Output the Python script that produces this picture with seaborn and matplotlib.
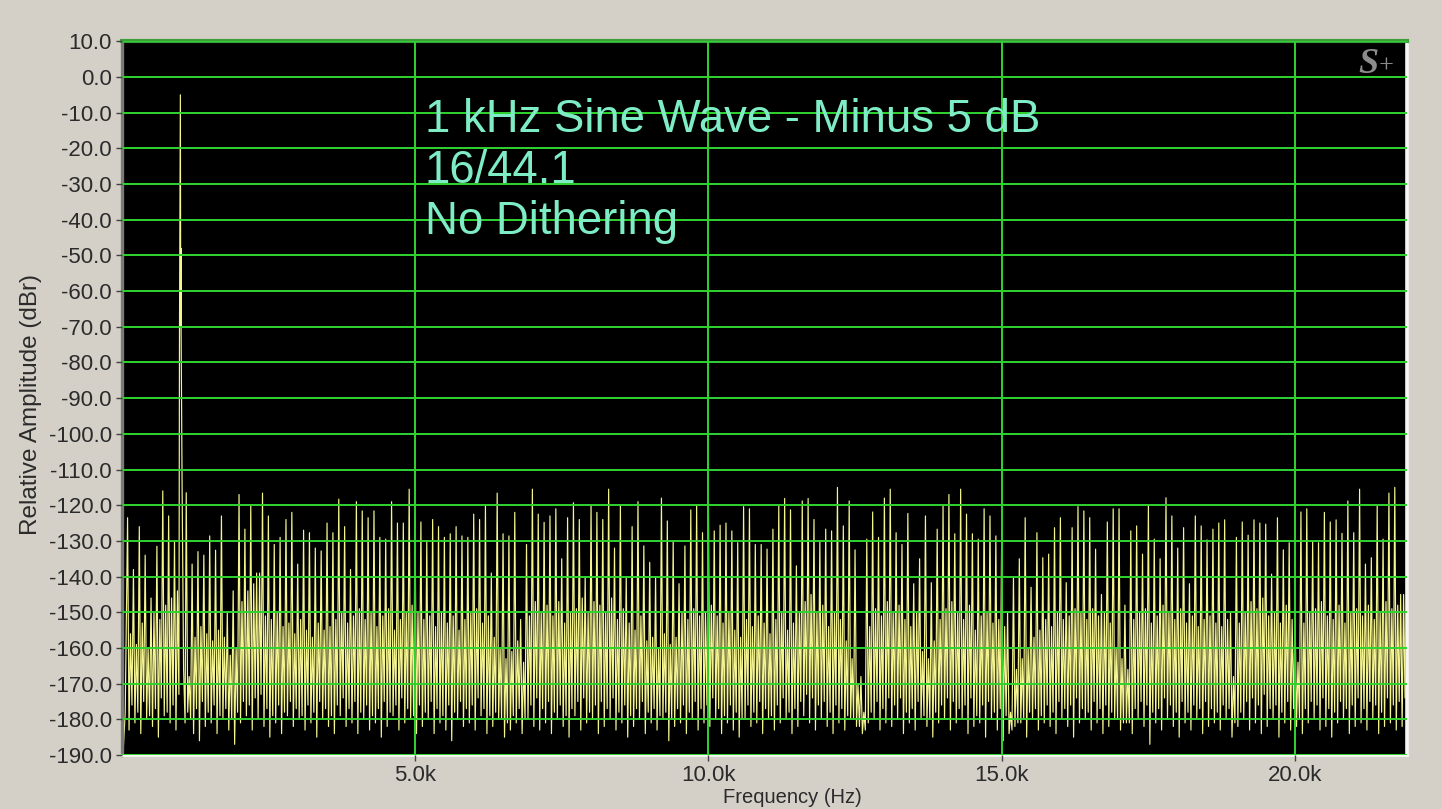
import numpy as np
import pandas as pd
import seaborn as sns
import matplotlib.pyplot as plt

# ---- spectrum data (dBr) -------------------------------------------------
# Spurs of the undithered 16-bit tone fall on a 100 Hz grid (bin n -> n*100 Hz).
BIN_HZ = 100
bins = [n for n in range(1, 219) if n != 10]   # bin 10 is the 1 kHz tone itself

# tip of the tall spur in each bin
peak_db = [
    -123.5, -138, -126, -134, -146, -131.5, -116, -123, -130,
    -116.5, -136.5, -133, -134, -128.6, -132.6, -123, -150, -144, -117,
    -126.7, -120, -139, -116.6, -123, -131, -129, -124, -122, -136.5,
    -127, -127.7, -132, -132.8, -125, -127.7, -118.3, -126, -138, -119,
    -121.6, -123.5, -121.6, -129, -129.5, -119, -125, -125, -115.5, -124,
    -124.7, -130, -124, -126, -129, -128, -126, -128.6, -129, -122.5,
    -124, -120, -139, -116.6, -128, -128.6, -122, -152, -131, -115.5,
    -122.5, -124.8, -123, -121, -135, -123.5, -119.3, -124, -140, -120,
    -122, -124, -115.5, -132, -120, -140, -126, -119, -131.4, -136,
    -140, -118, -124.4, -130, -142, -131.4, -121.3, -120, -127.7, -118.8,
    -127.2, -125.6, -125, -127.2, -130.5, -120.4, -121, -131, -131, -132.3,
    -126.7, -120.2, -118.1, -121.3, -137, -118.8, -118.1, -124, -130, -126.7,
    -127.2, -115, -125.8, -118.8, -132.5, -168, -129.5, -121.9, -129, -118,
    -115.5, -127.7, -131, -122.3, -142, -135, -123, -141.7, -126.7, -120.2,
    -117, -128, -115.5, -122.5, -128, -129.5, -121, -123, -128.6, -127.2,
    -150, -140, -135, -123.5, -143, -127.7, -134.7, -133.7, -126.3, -123.5,
    -141.7, -126.3, -120.4, -121.6, -123.5, -132.3, -145, -124.7, -121, -121,
    -148, -127.2, -125.8, -133.7, -120, -129.5, -135, -117.9, -123, -132,
    -126.3, -142, -123, -125.8, -129.7, -126.7, -125, -124.1, -150, -129,
    -124.7, -128.4, -124.1, -125, -125.3, -139.3, -123.5, -132.5, -130.5, -150,
    -121.9, -121, -130, -130.5, -122, -124.7, -124.1, -127.9, -118.8, -127.7,
    -115.5, -136.5, -134.7, -120.2, -129.5, -116.6, -115, -145,
]

# upper edge of the dense noise band in each bin
band_db = [
    -156, -159, -153, -160, -150, -152, -148, -146, -144,
    -168, -157, -154, -156, -158, -155, -157, -162, -160, -147,
    -144, -142, -139, -151, -152, -150, -154, -153, -156, -152,
    -155, -157, -153, -155, -154, -152, -150, -153, -151, -149,
    -152, -150, -154, -151, -149, -155, -152, -150, -148, -150,
    -152, -151, -154, -150, -153, -151, -155, -152, -150, -149,
    -153, -151, -157, -160, -163, -161, -158, -164, -151, -147,
    -150, -148, -151, -147, -153, -150, -149, -146, -150, -147,
    -148, -150, -146, -152, -149, -153, -155, -151, -158, -157,
    -160, -156, -159, -157, -150, -152, -149, -151, -150, -148,
    -151, -153, -150, -155, -157, -152, -154, -151, -153, -156,
    -152, -150, -155, -153, -150, -147, -145, -150, -148, -154,
    -150, -152, -158, -163, -170, -178, -154, -149, -151, -147,
    -150, -148, -152, -154, -150, -161, -163, -158, -152, -149,
    -147, -150, -152, -148, -155, -151, -150, -153, -152, -154,
    -178, -166, -163, -160, -157, -155, -152, -154, -150, -152,
    -151, -149, -150, -152, -149, -151, -150, -153, -160, -163,
    -166, -152, -150, -149, -153, -151, -148, -150, -152, -149,
    -153, -151, -154, -152, -151, -153, -154, -152, -168, -153,
    -150, -147, -149, -146, -151, -150, -153, -148, -152, -164,
    -153, -150, -149, -147, -151, -152, -148, -153, -150, -149,
    -151, -148, -152, -150, -147, -149, -148, -145,
]

# deep troughs between lines
floor_a_db = [
    -183, -181, -184, -180, -182, -185, -179, -181, -183,
    -178, -184, -186, -182, -181, -184, -180, -183, -187, -181,
    -179, -183, -180, -182, -185, -181, -184, -179, -182, -180,
    -183, -181, -185, -180, -182, -184, -179, -182, -181, -184,
    -180, -183, -181, -185, -182, -179, -183, -181, -180, -184,
    -182, -180, -184, -181, -183, -186, -180, -182, -181, -183,
    -179, -184, -182, -180, -185, -183, -181, -184, -180, -182,
    -183, -181, -184, -180, -182, -185, -179, -183, -181, -180,
    -184, -182, -180, -183, -181, -185, -182, -180, -184, -181,
    -183, -180, -186, -182, -181, -184, -180, -183, -181, -182,
    -180, -184, -181, -183, -185, -180, -182, -181, -184, -180,
    -183, -181, -180, -184, -182, -179, -181, -183, -180, -182,
    -184, -181, -183, -180, -182, -184, -181, -180, -183, -181,
    -182, -180, -184, -181, -183, -180, -182, -185, -181, -180,
    -183, -181, -180, -184, -182, -181, -185, -180, -183, -186,
    -184, -182, -181, -185, -180, -183, -181, -182, -184, -180,
    -182, -185, -181, -180, -183, -181, -184, -182, -180, -183,
    -181, -184, -180, -182, -187, -181, -183, -180, -182, -185,
    -181, -183, -180, -184, -182, -181, -183, -180, -185, -182,
    -180, -183, -181, -184, -182, -180, -185, -181, -183, -182,
    -184, -181, -180, -183, -182, -185, -181, -180, -184, -182,
    -181, -183, -180, -184, -182, -181, -183, -182,
]

floor_b_db = [
    -176, -178, -175, -179, -177, -174, -178, -176, -173,
    -180, -177, -175, -178, -176, -179, -177, -180, -178, -175,
    -176, -174, -173, -177, -179, -176, -178, -175, -177, -179,
    -176, -178, -175, -177, -179, -176, -174, -177, -175, -178,
    -176, -179, -177, -175, -178, -176, -174, -177, -179, -176,
    -178, -175, -177, -179, -176, -178, -175, -177, -176, -174,
    -177, -179, -178, -180, -181, -179, -177, -180, -176, -174,
    -177, -175, -178, -176, -179, -177, -175, -174, -178, -176,
    -175, -177, -174, -178, -176, -179, -177, -175, -178, -177,
    -179, -178, -180, -177, -176, -178, -175, -177, -176, -174,
    -177, -179, -176, -178, -180, -176, -178, -175, -177, -179,
    -176, -174, -178, -177, -175, -173, -174, -176, -175, -178,
    -176, -177, -179, -180, -182, -183, -178, -175, -177, -174,
    -176, -174, -178, -177, -175, -179, -180, -178, -176, -174,
    -175, -177, -176, -174, -179, -176, -175, -178, -177, -179,
    -183, -181, -180, -178, -177, -179, -176, -178, -175, -177,
    -176, -174, -177, -178, -175, -177, -176, -178, -180, -181,
    -181, -177, -175, -176, -178, -177, -174, -176, -178, -175,
    -178, -176, -177, -175, -177, -178, -176, -177, -181, -178,
    -175, -174, -176, -173, -177, -176, -178, -175, -177, -180,
    -177, -175, -176, -174, -177, -178, -175, -177, -176, -174,
    -177, -175, -176, -178, -174, -176, -175, -174,
]

# the 1 kHz tone and its immediate skirt
tone_hz = [985, 1000, 1003, 1006, 1009, 1012, 1030, 1055, 1080]
tone_db = [-70.5, -5.0, -48.0, -70.0, -48.0, -70.0, -116.0, -166.0, -181.0]

# start of the trace at the low-frequency end
start_hz = [25, 60]
start_db = [-189.0, -178.0]

# axis definitions
y_ticks = list(range(-190, 11, 10))
y_labels = [f"{v:.1f}" for v in y_ticks]
x_ticks = [5000, 10000, 15000, 20000]
x_labels = ["5.0k", "10.0k", "15.0k", "20.0k"]
title_lines = ["1 kHz Sine Wave - Minus 5 dB", "16/44.1", "No Dithering"]

# ---- assemble the trace --------------------------------------------------
freq, level = list(start_hz), list(start_db)
steps = [0, 25, 50, 75]
for i, n in enumerate(bins):
    if n == 11:
        freq += tone_hz
        level += tone_db
    vals = [peak_db[i], floor_a_db[i], band_db[i], floor_b_db[i]]
    for s, v in zip(steps, vals):
        freq.append(n * BIN_HZ + s)
        level.append(v)

spec = pd.DataFrame({"Frequency (Hz)": freq, "Relative Amplitude (dBr)": level})

# ---- styling -------------------------------------------------------------
sns.set_theme(style="dark")
plt.rcParams["font.family"] = ["Liberation Sans", "DejaVu Sans"]
plt.rcParams["axes.unicode_minus"] = False

PANEL = "#d4d0c8"
GRID = "#2fd42f"
TRACE = "#f5f590"
INK = "#2b2b2b"

fig = plt.figure(figsize=(14.42, 8.09), dpi=100, facecolor=PANEL)
ax = fig.add_axes([0.0844, 0.0667, 0.8910, 0.8823])
ax.set_facecolor("black")

sns.lineplot(data=spec, x="Frequency (Hz)", y="Relative Amplitude (dBr)",
             sort=False, estimator=None, color=TRACE, linewidth=0.85,
             ax=ax, zorder=1.5)

ax.set_xlim(0, 21900)
ax.set_ylim(-190, 10)
ax.set_yticks(y_ticks)
ax.set_yticklabels(y_labels)
ax.set_xticks(x_ticks)
ax.set_xticklabels(x_labels)

ax.set_axisbelow(False)
ax.grid(True, color=GRID, linewidth=1.4, zorder=2.5)

ax.tick_params(axis="both", which="both", direction="out", length=4, width=1,
               color="#404040", labelcolor=INK, labelsize=16, pad=3,
               left=True, bottom=True)

ax.spines["left"].set_color("#7a7a7a")
ax.spines["left"].set_linewidth(2.4)
ax.spines["top"].set_color("#3d9e3d")
ax.spines["top"].set_linewidth(3.0)
ax.spines["right"].set_color("#f6f6f4")
ax.spines["right"].set_linewidth(2.6)
ax.spines["bottom"].set_color("#f6f6f4")
ax.spines["bottom"].set_linewidth(2.0)

ax.set_xlabel("Frequency (Hz)", fontsize=14.5, color=INK)
ax.xaxis.set_label_coords(0.522, -0.046)
ax.set_ylabel("Relative Amplitude (dBr)", fontsize=17.5, color=INK)
ax.yaxis.set_label_coords(-0.062, 0.491)

# annotation block inside the plot
for k, line in enumerate(title_lines):
    ax.text(0.236, 0.873 - k * 0.0715, line, transform=ax.transAxes,
            color="#7eedc6", fontsize=32.8, va="baseline", ha="left", zorder=4)

# analyzer logo
serif = ["Liberation Serif", "DejaVu Serif"]
ax.text(0.970, 0.968, "S", transform=ax.transAxes, color="#8c8c8c",
        fontsize=26, fontstyle="italic", fontweight="bold",
        family=serif, ha="center", va="center", zorder=4)
ax.text(0.984, 0.965, "+", transform=ax.transAxes, color="#8c8c8c",
        fontsize=19, family=serif, ha="center", va="center", zorder=4)

fig.savefig("out.png", dpi=100, facecolor=PANEL)
